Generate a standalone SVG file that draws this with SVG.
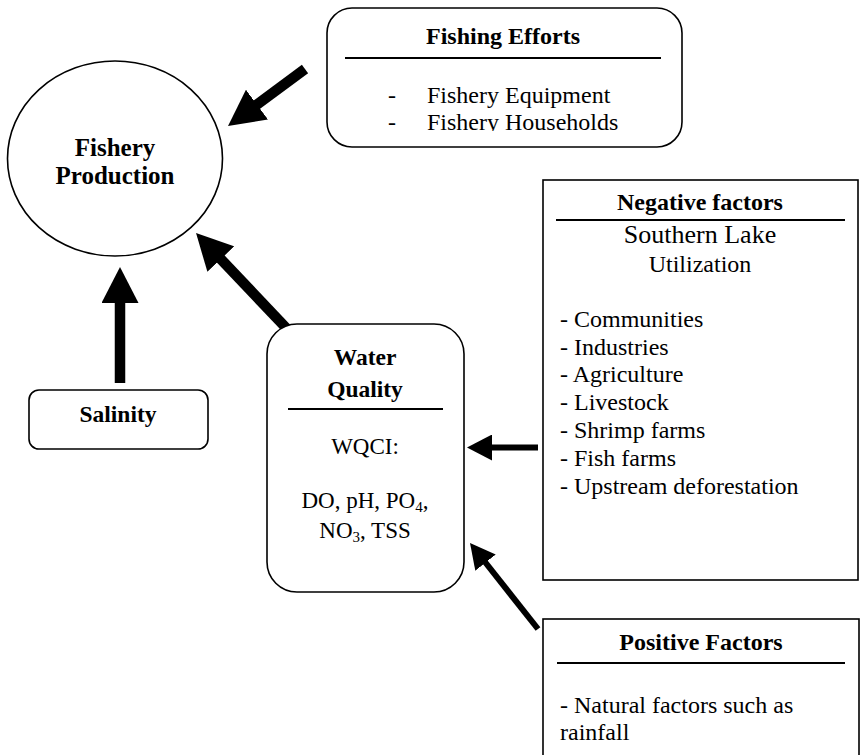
<svg xmlns="http://www.w3.org/2000/svg" width="861" height="755" viewBox="0 0 861 755">
<style>
text{font-family:"Liberation Serif","Times New Roman",serif;fill:#000;}
.b{font-weight:bold;}
.t24{font-size:24px;}
.c{text-anchor:middle;}
.box{fill:#fff;stroke:#000;stroke-width:1.6;}
.rule{stroke:#000;stroke-width:1.8;}
.thick{stroke:#000;stroke-width:10.5;fill:none;}
.thin{stroke:#000;stroke-width:6;fill:none;}
</style>
<defs>
<marker id="bigHead" markerUnits="userSpaceOnUse" viewBox="0 0 36 37" refX="16" refY="18.5" markerWidth="36" markerHeight="37" orient="auto">
<path d="M0,0 L36,18.5 L0,37 z" fill="#000"/>
</marker>
<marker id="smallHead" markerUnits="userSpaceOnUse" viewBox="0 0 25 26" refX="11" refY="13" markerWidth="25" markerHeight="26" orient="auto">
<path d="M0,0 L25,13 L0,26 z" fill="#000"/>
</marker>
<clipPath id="feClip"><rect x="327" y="8" width="355" height="123"/></clipPath>
</defs>
<rect width="861" height="755" fill="#fff"/>
<g id="connectors">
<line class="thick" x1="305" y1="69" x2="244.1" y2="114.1" marker-end="url(#bigHead)"/>
<line class="thick" x1="290" y1="332" x2="209.8" y2="247.5" marker-end="url(#bigHead)"/>
<line class="thick" x1="120" y1="383" x2="120" y2="287" marker-end="url(#bigHead)"/>
<line class="thin" x1="538" y1="447.5" x2="481" y2="447.5" marker-end="url(#smallHead)"/>
<line class="thin" x1="538" y1="629" x2="478.7" y2="554" marker-end="url(#smallHead)"/>
</g>
<g id="fishery-production">
<ellipse class="box" cx="115" cy="158.5" rx="107.5" ry="97.5"/>
<text class="b c" x="115" y="155.5" font-size="25">Fishery</text>
<text class="b c" x="115" y="183.5" font-size="25">Production</text>
</g>
<g id="fishing-efforts">
<rect class="box" x="327" y="8" width="355" height="139" rx="25"/>
<text class="b c t24" x="503" y="44">Fishing Efforts</text>
<line class="rule" x1="345" y1="58" x2="661" y2="58"/>
<g clip-path="url(#feClip)">
<text class="t24" x="388" y="103">-</text>
<text class="t24" x="427" y="103">Fishery Equipment</text>
<text class="t24" x="388" y="129.5">-</text>
<text class="t24" x="427" y="129.5">Fishery Households</text>
</g>
</g>
<g id="salinity">
<rect class="box" x="29" y="390" width="179" height="59" rx="10"/>
<text class="b c" x="118" y="422" font-size="23.5">Salinity</text>
</g>
<g id="water-quality">
<rect class="box" x="267" y="324" width="197" height="268" rx="30"/>
<text class="b c" x="365" y="365" font-size="23.5">Water</text>
<text class="b c" x="365" y="397" font-size="23.5">Quality</text>
<line class="rule" x1="288" y1="409" x2="443" y2="409"/>
<text class="c" x="365" y="454" font-size="23">WQCI:</text>
<text class="c" x="365" y="508" font-size="23">DO, pH, PO<tspan font-size="15" dy="4">4</tspan><tspan dy="-4">,</tspan></text>
<text class="c" x="365" y="538" font-size="23">NO<tspan font-size="15" dy="4">3</tspan><tspan dy="-4">, TSS</tspan></text>
</g>
<g id="negative-factors">
<rect class="box" x="543" y="180" width="315" height="400"/>
<text class="b c t24" x="700" y="210">Negative factors</text>
<line class="rule" x1="556" y1="220" x2="845" y2="220"/>
<text class="c" x="700" y="243" font-size="26">Southern Lake</text>
<text class="c t24" x="700" y="272">Utilization</text>
<text class="t24" x="560" y="327">- Communities</text>
<text class="t24" x="560" y="355">- Industries</text>
<text class="t24" x="560" y="382">- Agriculture</text>
<text class="t24" x="560" y="410">- Livestock</text>
<text class="t24" x="560" y="438">- Shrimp farms</text>
<text class="t24" x="560" y="466">- Fish farms</text>
<text class="t24" x="560" y="494">- Upstream deforestation</text>
</g>
<g id="positive-factors">
<rect class="box" x="543" y="619" width="316" height="150"/>
<text class="b c t24" x="701" y="650">Positive Factors</text>
<line class="rule" x1="557" y1="663" x2="845" y2="663"/>
<text class="t24" x="560" y="713">- Natural factors such as</text>
<text class="t24" x="560" y="740">rainfall</text>
</g>
</svg>
